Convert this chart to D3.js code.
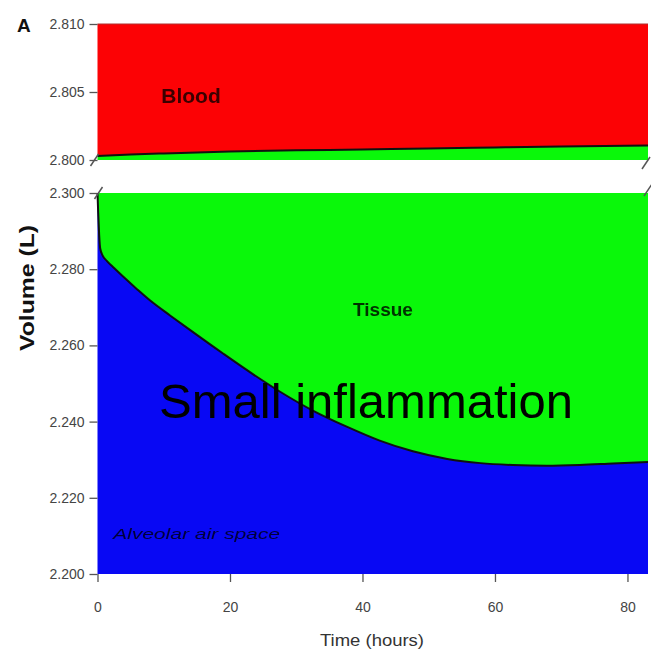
<!DOCTYPE html>
<html>
<head>
<meta charset="utf-8">
<script src="https://cdn.jsdelivr.net/npm/d3@7/dist/d3.min.js"></script>
<style>
  html, body { margin: 0; padding: 0; background: #fff; }
  svg { display: block; }
  text { font-family: "Liberation Sans", Arial, sans-serif; }
</style>
</head>
<body>
<svg id="chart" width="651" height="656"></svg>
<script>
// Time axis (hours) and ticks
const xTicks = [0, 20, 40, 60, 80];
const timeMax = 83.1;

// Upper panel: blood / tissue boundary (L)
const bloodTime   = [0, 5, 10, 20, 30, 40, 50, 60, 70, 83.1];
const bloodBound  = [2.80029, 2.80040, 2.80048, 2.80063, 2.80071, 2.80077, 2.80085, 2.80092, 2.80099, 2.80107];
const upperTicks  = [2.800, 2.805, 2.810];

// Lower panel: tissue / alveolar air space boundary (L)
const alvTime  = [0, 0.1, 0.25, 0.4, 0.8, 1.4, 2.5, 3.9, 6, 8, 11, 14, 19, 23.5, 27.5, 32.5, 37.7, 42.6, 47.6, 52.8, 57.8, 62.7, 67.8, 72.8, 77.8, 83.1];
const alvBound = [2.3000, 2.2950, 2.2890, 2.2855, 2.2835, 2.2822, 2.2803, 2.2780, 2.2747, 2.2717, 2.2678, 2.2640, 2.2578, 2.2524, 2.2479, 2.2429, 2.2386, 2.2350, 2.2322, 2.2302, 2.2291, 2.2286, 2.2284, 2.2286, 2.2290, 2.2294];
const lowerTicks = [2.200, 2.220, 2.240, 2.260, 2.280, 2.300];

const RED = "#fc0205", GREEN = "#0af80a", BLUE = "#0808f4";

const svg = d3.select("#chart");

const soft = svg.append("defs").append("filter").attr("id", "soft")
  .attr("x", "-10%").attr("y", "-30%").attr("width", "120%").attr("height", "160%");
soft.append("feGaussianBlur").attr("stdDeviation", 0.7);

const x = d3.scaleLinear().domain([0, timeMax]).range([97.5, 648]);
const yTop = d3.scaleLinear().domain([2.800, 2.810]).range([160, 24]);
const yBot = d3.scaleLinear().domain([2.200, 2.300]).range([574, 193]);

const bloodData = bloodTime.map((t, i) => ({ t, v: bloodBound[i] }));
const alvData = alvTime.map((t, i) => ({ t, v: alvBound[i] }));

// ---- upper panel ----
const upperPanel = svg.append("g");
upperPanel.append("path").datum(bloodData)
  .attr("fill", RED)
  .attr("d", d3.area().x(d => x(d.t)).y0(yTop(2.810)).y1(d => yTop(d.v)).curve(d3.curveMonotoneX));
upperPanel.append("path").datum(bloodData)
  .attr("fill", GREEN)
  .attr("d", d3.area().x(d => x(d.t)).y0(yTop(2.800)).y1(d => yTop(d.v)).curve(d3.curveMonotoneX));
upperPanel.append("path").datum(bloodData)
  .attr("fill", "none").attr("stroke", "#111").attr("stroke-width", 2)
  .attr("d", d3.line().x(d => x(d.t)).y(d => yTop(d.v)).curve(d3.curveMonotoneX));
upperPanel.append("line")
  .attr("x1", x(0)).attr("x2", x(timeMax)).attr("y1", yTop(2.810)).attr("y2", yTop(2.810))
  .attr("stroke", "#b03030").attr("stroke-width", 1.2);

// ---- lower panel ----
const lowerPanel = svg.append("g");
lowerPanel.append("path").datum(alvData)
  .attr("fill", GREEN)
  .attr("d", d3.area().x(d => x(d.t)).y0(yBot(2.300)).y1(d => yBot(d.v)).curve(d3.curveMonotoneX));
lowerPanel.append("path").datum(alvData)
  .attr("fill", BLUE)
  .attr("d", d3.area().x(d => x(d.t)).y0(yBot(2.200)).y1(d => yBot(d.v)).curve(d3.curveMonotoneX));
lowerPanel.append("path").datum(alvData)
  .attr("fill", "none").attr("stroke", "#111").attr("stroke-width", 2)
  .attr("d", d3.line().x(d => x(d.t)).y(d => yBot(d.v)).curve(d3.curveMonotoneX));

// ---- axes ----
const fmt = d3.format(".3f");
function styleAxis(g) {
  g.select(".domain").remove();
  g.selectAll(".tick line").attr("stroke", "#555").attr("stroke-width", 1.3);
  g.selectAll(".tick text").attr("fill", "#444").attr("font-size", 14)
    .attr("font-family", "'Liberation Sans', Arial, sans-serif");
}
svg.append("g").attr("transform", `translate(${x(0)},0)`)
  .call(d3.axisLeft(yTop).tickValues(upperTicks).tickFormat(fmt).tickSize(8).tickPadding(5))
  .call(styleAxis);
svg.append("g").attr("transform", `translate(${x(0)},0)`)
  .call(d3.axisLeft(yBot).tickValues(lowerTicks).tickFormat(fmt).tickSize(8).tickPadding(5))
  .call(styleAxis);
svg.append("g").attr("transform", `translate(0,${yBot(2.200)})`)
  .call(d3.axisBottom(x).tickValues(xTicks).tickFormat(d3.format("d")).tickSize(8).tickPadding(20))
  .call(styleAxis);

// axis break marks
const breaks = [
  [x(0) - 3, yTop(2.800)], [x(0) + 1, yBot(2.300)],
  [x(timeMax) - 2, yTop(2.800) + 3], [x(timeMax), yBot(2.300) - 3]
];
svg.append("g").selectAll("line").data(breaks).join("line")
  .attr("x1", d => d[0] - 4).attr("y1", d => d[1] + 6)
  .attr("x2", d => d[0] + 4).attr("y2", d => d[1] - 6)
  .attr("stroke", "#555").attr("stroke-width", 1.5);

// ---- labels ----
svg.append("text").attr("x", 17).attr("y", 32)
  .attr("font-size", 19).attr("font-weight", "bold").attr("fill", "#111").text("A");

svg.append("text")
  .attr("transform", "translate(34,288) rotate(-90)")
  .attr("text-anchor", "middle").attr("font-size", 20).attr("font-weight", "bold")
  .attr("textLength", 126).attr("lengthAdjust", "spacingAndGlyphs")
  .attr("fill", "#111").text("Volume (L)");

svg.append("text").attr("x", 372).attr("y", 646)
  .attr("text-anchor", "middle").attr("font-size", 17).attr("fill", "#333")
  .attr("textLength", 104).attr("lengthAdjust", "spacingAndGlyphs")
  .text("Time (hours)");

const inner = svg.append("g").attr("filter", "url(#soft)");
inner.append("text").attr("x", 191).attr("y", 103)
  .attr("text-anchor", "middle").attr("font-size", 21).attr("font-weight", "bold")
  .attr("fill", "#3a0505").text("Blood");
inner.append("text").attr("x", 383).attr("y", 316)
  .attr("text-anchor", "middle").attr("font-size", 19).attr("font-weight", "bold")
  .attr("fill", "#063006").text("Tissue");
inner.append("text").attr("x", 113).attr("y", 539)
  .attr("font-size", 15).attr("font-style", "italic")
  .attr("textLength", 167).attr("lengthAdjust", "spacingAndGlyphs")
  .attr("fill", "#06063a").text("Alveolar air space");

svg.append("text").attr("x", 366).attr("y", 418)
  .attr("text-anchor", "middle").attr("font-size", 49).attr("fill", "#000")
  .text("Small inflammation");
</script>
</body>
</html>
